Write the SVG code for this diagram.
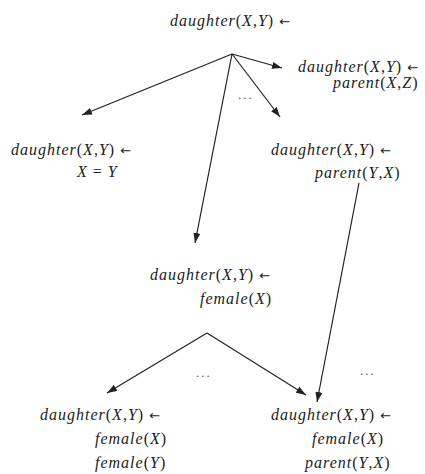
<svg xmlns="http://www.w3.org/2000/svg" width="425" height="474" viewBox="0 0 425 474">
<defs>
<marker id="ah" markerWidth="10" markerHeight="7" refX="10" refY="3.5" orient="auto" markerUnits="userSpaceOnUse">
<path d="M0,0 L10,3.5 L0,7 Z" fill="#222"/>
</marker>
<style>
text{font-family:"Liberation Serif","Times New Roman",serif;font-size:16px;font-style:italic;letter-spacing:1px;fill:#222}
.u{font-style:normal}
.ar{font-family:"DejaVu Sans",sans-serif;font-style:normal;font-size:13px;letter-spacing:0}
.dots{font-style:normal;font-size:13px;letter-spacing:2px;fill:#555}
.e{stroke:#222;stroke-width:1.2;fill:none}
.a{marker-end:url(#ah)}
</style>
</defs>
<rect width="425" height="474" fill="#fff"/>
<g id="connectors">
<line class="e a" x1="232" y1="54" x2="82" y2="115"/>
<line class="e a" x1="232" y1="54" x2="195" y2="243"/>
<line class="e a" x1="232" y1="54" x2="280" y2="117"/>
<line class="e a" x1="232" y1="54" x2="282" y2="68"/>
<line class="e a" x1="359" y1="183" x2="317" y2="402"/>
<line class="e a" x1="207" y1="333" x2="107" y2="393"/>
<line class="e a" x1="207" y1="333" x2="306" y2="395"/>
<text class="dots" x="238" y="99">...</text>
<text class="dots" x="196" y="377">...</text>
<text class="dots" x="360" y="375">...</text>
</g>
<g id="n-root">
<text x="170" y="26">daughter<tspan class="u">(</tspan>X<tspan class="u">,</tspan>Y<tspan class="u">)</tspan> <tspan class="ar">←</tspan></text>
</g>
<g id="n-parentXZ">
<text x="298" y="72">daughter<tspan class="u">(</tspan>X<tspan class="u">,</tspan>Y<tspan class="u">)</tspan> <tspan class="ar">←</tspan></text>
<text x="333" y="88">parent<tspan class="u">(</tspan>X<tspan class="u">,</tspan>Z<tspan class="u">)</tspan></text>
</g>
<g id="n-eq">
<text x="11" y="155">daughter<tspan class="u">(</tspan>X<tspan class="u">,</tspan>Y<tspan class="u">)</tspan> <tspan class="ar">←</tspan></text>
<text x="77" y="177">X <tspan class="u">=</tspan> Y</text>
</g>
<g id="n-parentYX">
<text x="271" y="155">daughter<tspan class="u">(</tspan>X<tspan class="u">,</tspan>Y<tspan class="u">)</tspan> <tspan class="ar">←</tspan></text>
<text x="315" y="178">parent<tspan class="u">(</tspan>Y<tspan class="u">,</tspan>X<tspan class="u">)</tspan></text>
</g>
<g id="n-femaleX">
<text x="150" y="280">daughter<tspan class="u">(</tspan>X<tspan class="u">,</tspan>Y<tspan class="u">)</tspan> <tspan class="ar">←</tspan></text>
<text x="200" y="304">female<tspan class="u">(</tspan>X<tspan class="u">)</tspan></text>
</g>
<g id="n-femaleXY">
<text x="40" y="420">daughter<tspan class="u">(</tspan>X<tspan class="u">,</tspan>Y<tspan class="u">)</tspan> <tspan class="ar">←</tspan></text>
<text x="95" y="444">female<tspan class="u">(</tspan>X<tspan class="u">)</tspan></text>
<text x="95" y="468">female<tspan class="u">(</tspan>Y<tspan class="u">)</tspan></text>
</g>
<g id="n-femaleX-parentYX">
<text x="271" y="420">daughter<tspan class="u">(</tspan>X<tspan class="u">,</tspan>Y<tspan class="u">)</tspan> <tspan class="ar">←</tspan></text>
<text x="312" y="444">female<tspan class="u">(</tspan>X<tspan class="u">)</tspan></text>
<text x="305" y="468">parent<tspan class="u">(</tspan>Y<tspan class="u">,</tspan>X<tspan class="u">)</tspan></text>
</g>
</svg>
